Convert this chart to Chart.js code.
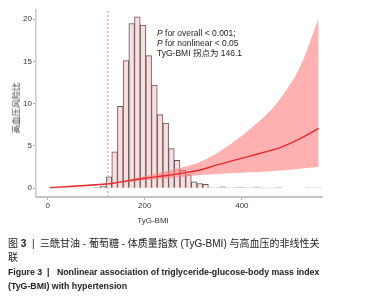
<!DOCTYPE html>
<html>
<head>
<meta charset="utf-8">
<script src="https://cdn.jsdelivr.net/npm/chart.js@4.4.1/dist/chart.umd.min.js"></script>
<style>
  body { margin: 0; background: #fff; width: 369px; height: 300px; overflow: hidden; position: relative;
         font-family: "Liberation Sans", "Noto Sans CJK SC", sans-serif; color: #333; }
  #wrap { position: absolute; left: 0; top: 0; width: 369px; height: 230px; }
  .txt { position: absolute; white-space: nowrap; }
  #note { left: 157px; top: 28px; font-size: 8.5px; line-height: 10px; color: #222; }
  #ytitle { left: 15px; top: 108px; font-size: 8.5px; color: #333; transform: translate(-50%, -50%) rotate(-90deg); }
  #xtitle { left: 153px; top: 220px; font-size: 8px; transform: translate(-50%, -50%); }
  .cap { left: 8px; font-size: 10px; line-height: 12px; color: #222; }
  .capen { left: 8px; font-size: 8.8px; line-height: 12px; font-weight: bold; color: #222; }
</style>
</head>
<body>
<div id="wrap"><canvas id="chart" width="369" height="230"></canvas></div>
<div class="txt" id="note"><i>P</i> for overall &lt; 0.001;<br><i>P</i> for nonlinear &lt; 0.05<br>TyG-BMI 拐点为 146.1</div>
<div class="txt" id="ytitle">高血压风险比</div>
<div class="txt" id="xtitle">TyG-BMI</div>
<div class="txt cap" style="top:238px">图 <b>3</b> &nbsp;| &nbsp;三酰甘油 - 葡萄糖 - 体质量指数 (TyG-BMI) 与高血压的非线性关</div>
<div class="txt cap" style="top:252px">联</div>
<div class="txt capen" style="top:266px">Figure 3 &nbsp;| &nbsp; Nonlinear association of triglyceride-glucose-body mass index</div>
<div class="txt capen" style="top:280px">(TyG-BMI) with hypertension</div>
<script>
// histogram bins (TyG-BMI bin centres) and bar heights
const binCenters = [9.2, 20.9, 32.6, 44.3, 56.0, 67.7, 79.4, 91.1, 102.8, 114.5,
  126.2, 137.9, 149.6, 161.3, 173.0, 184.7, 196.4, 208.1, 219.8, 231.5,
  243.2, 254.9, 266.6, 278.3, 290.0, 301.7, 313.4, 325.1, 336.8, 348.5,
  360.2, 371.9, 383.6, 395.3, 407.0, 418.7, 430.4, 442.1, 453.8, 465.5,
  477.2, 488.9, 500.6, 512.3, 524.0, 535.7, 547.4, 559.1];
const binHeights = [0.08, 0.03, 0.03, 0.03, 0.03, 0.03, 0.03, 0.05, 0.1, 0.25,
  1.35, 4.3, 9.7, 15.1, 19.5, 20.3, 19.3, 15.7, 12.2, 8.7,
  7.7, 4.7, 3.3, 2.1, 1.6, 0.75, 0.55, 0.45, 0.05, 0.05,
  0.15, 0.05, 0.05, 0.12, 0.05, 0.05, 0.12, 0.03, 0.03, 0.03,
  0.06, 0, 0, 0, 0, 0.05, 0.05, 0.03];

// spline curve and 95% CI
const curveX = [5, 60, 125, 200, 245, 280, 314, 349, 383, 417, 452, 479, 520, 558];
const curveOR = [0.06, 0.25, 0.52, 1.17, 1.5, 1.81, 2.15, 2.75, 3.28, 3.8, 4.35, 4.8, 5.85, 7.07];
const curveUpper = [0.12, 0.32, 0.62, 1.4, 2.0, 2.5, 3.1, 4.15, 5.45, 7.0, 8.8, 10.6, 14.4, 20.1];
const curveLower = [0.0, 0.18, 0.44, 0.95, 1.15, 1.35, 1.55, 1.68, 1.78, 1.87, 1.98, 2.08, 2.3, 2.52];

const refLine = 124;
const xTicks = [0, 200, 400];
const yTicks = [0, 5, 10, 15, 20];
const xMin = -24, xMax = 565;
const yMin = -1.05, yMax = 21.1;

function pts(xs, ys) {
  return xs.map((x, i) => ({ x: x, y: ys[i] }));
}

const ctx = document.getElementById("chart").getContext("2d");
new Chart(ctx, {
  type: "bar",
  data: {
    datasets: [
      {
        type: "bar",
        data: pts(binCenters, binHeights),
        backgroundColor: "#fcdcdd",
        borderColor: "#5a5a5a",
        borderWidth: 1,
        barPercentage: 1,
        categoryPercentage: 1,
        order: 4
      },
      {
        type: "line",
        data: pts(curveX, curveUpper),
        borderWidth: 0,
        pointRadius: 0,
        backgroundColor: "rgba(255,125,125,0.6)",
        fill: "+1",
        cubicInterpolationMode: "monotone",
        order: 3
      },
      {
        type: "line",
        data: pts(curveX, curveLower),
        borderWidth: 0,
        pointRadius: 0,
        fill: false,
        cubicInterpolationMode: "monotone",
        order: 3
      },
      {
        type: "line",
        data: pts(curveX, curveOR),
        borderColor: "#e52a2d",
        borderWidth: 1.4,
        pointRadius: 0,
        fill: false,
        cubicInterpolationMode: "monotone",
        order: 1
      },
      {
        type: "line",
        data: [{ x: refLine, y: yMin }, { x: refLine, y: yMax }],
        borderColor: "#e48080",
        borderWidth: 1,
        borderDash: [2, 2],
        pointRadius: 0,
        fill: false,
        order: 0
      }
    ]
  },
  options: {
    responsive: false,
    animation: false,
    devicePixelRatio: 1,
    layout: { padding: { top: 10, right: 47, left: 0, bottom: 0 } },
    plugins: { legend: { display: false }, tooltip: { enabled: false } },
    scales: {
      x: {
        type: "linear",
        offset: false,
        min: xMin,
        max: xMax,
        afterFit: (s) => { s.height = 33; },
        afterBuildTicks: (s) => { s.ticks = xTicks.map(v => ({ value: v })); },
        grid: { display: true, offset: false, drawOnChartArea: false, drawTicks: true, tickLength: 3, tickColor: "#aaa" },
        border: { display: true, color: "#c4c4c4", width: 2 },
        ticks: { padding: 1, color: "#333", font: { family: "Liberation Sans", size: 8 }, maxRotation: 0 }
      },
      y: {
        min: yMin,
        max: yMax,
        afterFit: (s) => { s.width = 36; },
        afterBuildTicks: (s) => { s.ticks = yTicks.map(v => ({ value: v })); },
        grid: { display: true, drawOnChartArea: false, drawTicks: true, tickLength: 3, tickColor: "#aaa" },
        border: { display: true, color: "#c8c8c8", width: 1.5 },
        ticks: { padding: 1, color: "#333", font: { family: "Liberation Sans", size: 8 } }
      }
    }
  }
});
</script>
</body>
</html>
